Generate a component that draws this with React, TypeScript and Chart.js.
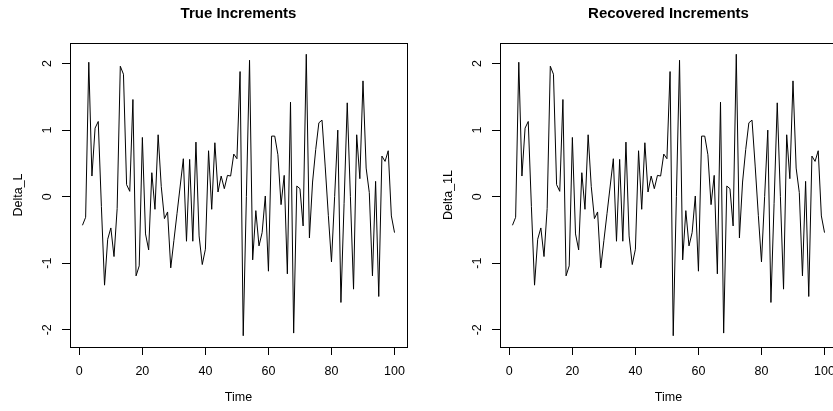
import React, { useEffect, useRef } from "react";
import { Chart, registerables } from "chart.js";

Chart.register(...registerables);

const time = [
  1, 2, 3, 4, 5, 6, 7, 8, 9, 10, 11, 12, 13, 14, 15, 16, 17, 18, 19, 20,
  21, 22, 23, 24, 25, 26, 27, 28, 29, 30, 31, 32, 33, 34, 35, 36, 37, 38, 39, 40,
  41, 42, 43, 44, 45, 46, 47, 48, 49, 50, 51, 52, 53, 54, 55, 56, 57, 58, 59, 60,
  61, 62, 63, 64, 65, 66, 67, 68, 69, 70, 71, 72, 73, 74, 75, 76, 77, 78, 79, 80,
  81, 82, 83, 84, 85, 86, 87, 88, 89, 90, 91, 92, 93, 94, 95, 96, 97, 98, 99, 100,
];

const trueIncrements = [
  -0.43, -0.31, 2.02, 0.31, 1.03, 1.13, -0.15, -1.33, -0.64, -0.47,
  -0.9, -0.18, 1.96, 1.84, 0.18, 0.08, 1.46, -1.19, -1.04, 0.89,
  -0.56, -0.8, 0.36, -0.19, 0.93, 0.15, -0.33, -0.23, -1.07, -0.66,
  -0.25, 0.16, 0.57, -0.67, 0.56, -0.67, 0.82, -0.59, -1.02, -0.79,
  0.69, -0.19, 0.81, 0.07, 0.31, 0.12, 0.32, 0.31, 0.64, 0.57,
  1.88, -2.09, 0.0, 2.05, -0.95, -0.21, -0.74, -0.54, 0.01, -1.12,
  0.91, 0.91, 0.63, -0.12, 0.32, -1.16, 1.42, -2.05, 0.16, 0.12,
  -0.44, 2.14, -0.62, 0.22, 0.71, 1.11, 1.15, 0.46, -0.28, -0.98,
  0.0, 1.0, -1.59, -0.1, 1.41, 0.0, -1.39, 0.93, 0.27, 1.74,
  0.43, 0.06, -1.19, 0.23, -1.5, 0.61, 0.53, 0.69, -0.29, -0.54,
];

const recoveredIncrements = [
  -0.43, -0.31, 2.02, 0.31, 1.03, 1.13, -0.15, -1.33, -0.64, -0.47,
  -0.9, -0.18, 1.96, 1.84, 0.18, 0.08, 1.46, -1.19, -1.04, 0.89,
  -0.56, -0.8, 0.36, -0.19, 0.93, 0.15, -0.33, -0.23, -1.07, -0.66,
  -0.25, 0.16, 0.57, -0.67, 0.56, -0.67, 0.82, -0.59, -1.02, -0.79,
  0.69, -0.19, 0.81, 0.07, 0.31, 0.12, 0.32, 0.31, 0.64, 0.57,
  1.88, -2.09, 0.0, 2.05, -0.95, -0.21, -0.74, -0.54, 0.01, -1.12,
  0.91, 0.91, 0.63, -0.12, 0.32, -1.16, 1.42, -2.05, 0.16, 0.12,
  -0.44, 2.14, -0.62, 0.22, 0.71, 1.11, 1.15, 0.46, -0.28, -0.98,
  0.0, 1.0, -1.59, -0.1, 1.41, 0.0, -1.39, 0.93, 0.27, 1.74,
  0.43, 0.06, -1.19, 0.23, -1.5, 0.61, 0.53, 0.69, -0.29, -0.54,
];

const xTicks = [0, 20, 40, 60, 80, 100];
const yTicks = [-2, -1, 0, 1, 2];

const FONT = "'Liberation Sans', Arial, Helvetica, sans-serif";

const boxPlugin = {
  id: "plotBox",
  afterDraw(chart: any) {
    const { ctx, chartArea } = chart;
    const l = Math.round(chartArea.left) + 0.5;
    const t = Math.round(chartArea.top) + 0.5;
    const r = Math.round(chartArea.right) + 0.5;
    const b = Math.round(chartArea.bottom) + 0.5;
    ctx.save();
    ctx.strokeStyle = "#000";
    ctx.lineWidth = 1;
    ctx.strokeRect(l, t, r - l, b - t);
    ctx.restore();
  },
};

function Panel(props: { title: string; yLabel: string; values: number[]; left: number }) {
  const ref = useRef<HTMLCanvasElement>(null);
  useEffect(() => {
    const values = props.values;
    const minV = Math.min(...values);
    const maxV = Math.max(...values);
    const yr = maxV - minV;
    const xr = time[time.length - 1] - time[0];
    const gridOpts = {
      display: true,
      drawOnChartArea: false,
      drawTicks: true,
      tickLength: 8,
      color: "#000",
      lineWidth: 1,
    };
    const chart = new Chart(ref.current as HTMLCanvasElement, {
      type: "line",
      data: {
        labels: time,
        datasets: [
          {
            data: values,
            borderColor: "#000",
            borderWidth: 1,
            pointRadius: 0,
            tension: 0,
            fill: false,
          },
        ],
      },
      options: {
        animation: false,
        responsive: false,
        events: [],
        layout: { padding: { left: 0, right: 70, top: 0, bottom: 0 } },
        plugins: {
          legend: { display: false },
          tooltip: { enabled: false },
          title: {
            display: true,
            text: props.title,
            fullSize: false,
            color: "#000",
            font: { family: FONT, size: 15, weight: "bold", lineHeight: 1.2 },
            padding: { top: 4.5, bottom: 20.5 },
          },
        },
        scales: {
          x: {
            type: "linear",
            min: time[0] - 0.04 * xr,
            max: time[time.length - 1] + 0.04 * xr,
            afterBuildTicks: (s: any) => {
              s.ticks = xTicks.map((v) => ({ value: v }));
            },
            afterFit: (s: any) => {
              s.height = 64;
            },
            grid: gridOpts,
            border: { display: true, color: "#000", width: 1 },
            ticks: {
              color: "#000",
              font: { family: FONT, size: 12.5 },
              padding: 9,
              maxRotation: 0,
              autoSkip: false,
            },
            title: {
              display: true,
              text: "Time",
              color: "#000",
              font: { family: FONT, size: 12.5, lineHeight: 1.2 },
              padding: { top: 0, bottom: 5.5 },
            },
          },
          y: {
            type: "linear",
            min: minV - 0.04 * yr,
            max: maxV + 0.04 * yr,
            afterBuildTicks: (s: any) => {
              s.ticks = yTicks.map((v) => ({ value: v }));
            },
            afterFit: (s: any) => {
              s.width = 70;
            },
            grid: gridOpts,
            border: { display: true, color: "#000", width: 1 },
            ticks: {
              color: "#000",
              font: { family: FONT, size: 12.5 },
              padding: 8.7,
              minRotation: 90,
              maxRotation: 90,
              crossAlign: "center",
              autoSkip: false,
            },
            title: {
              display: true,
              text: props.yLabel,
              color: "#000",
              font: { family: FONT, size: 12.5, lineHeight: 1.2 },
              padding: { top: 11, bottom: 0 },
            },
          },
        },
      } as any,
      plugins: [boxPlugin],
    });
    return () => chart.destroy();
  }, []);
  return (
    <canvas
      ref={ref}
      width={477}
      height={411}
      style={{ position: "absolute", left: props.left, top: 0, width: 477, height: 411 }}
    />
  );
}

export default function App() {
  return (
    <div
      style={{
        position: "absolute",
        left: 0,
        top: 0,
        width: 833,
        height: 411,
        overflow: "hidden",
        background: "#fff",
      }}
    >
      <Panel title="True Increments" yLabel="Delta_L" values={trueIncrements} left={0} />
      <Panel title="Recovered Increments" yLabel="Delta_1L" values={recoveredIncrements} left={430} />
    </div>
  );
}
